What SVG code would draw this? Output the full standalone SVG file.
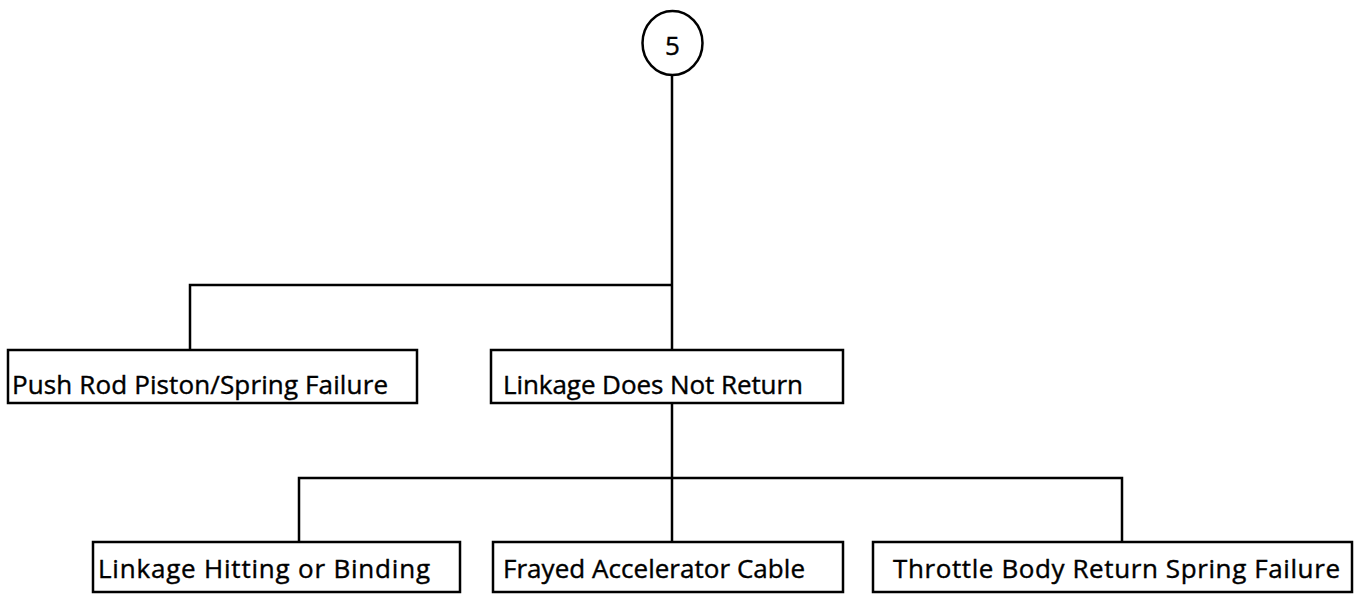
<svg xmlns="http://www.w3.org/2000/svg" width="1355" height="595" viewBox="0 0 1355 595">
<style>
.box{fill:#fff;stroke:#000;stroke-width:2.5}
.ln{fill:none;stroke:#000;stroke-width:2.5}
.t{font-family:"Open Sans","Liberation Sans",Arial,sans-serif;font-size:26px;fill:#000;stroke:#000;stroke-width:0.4}
.c{font-family:"Open Sans","Liberation Sans",Arial,sans-serif;font-size:26px;fill:#000;stroke:#000;stroke-width:0.4;text-anchor:middle}
</style>
<rect width="1355" height="595" fill="#fff"/>
<g id="connectors">
<path class="ln" d="M672 75 V350"/>
<path class="ln" d="M190 350 V285 H672"/>
<path class="ln" d="M672 403 V542"/>
<path class="ln" d="M299 542 V478 H1122 V542"/>
</g>
<g id="n5">
<ellipse class="box" cx="672.5" cy="43" rx="30" ry="32"/>
<text class="c" x="672.5" y="55">5</text>
</g>
<g id="n-pushrod">
<rect class="box" x="8" y="350" width="409" height="53"/>
<text class="t" x="12" y="394" textLength="376">Push Rod Piston/Spring Failure</text>
</g>
<g id="n-linkage">
<rect class="box" x="491" y="350" width="352" height="53"/>
<text class="t" x="503" y="394" textLength="300">Linkage Does Not Return</text>
</g>
<g id="n-hitting">
<rect class="box" x="93" y="542" width="367" height="50"/>
<text class="t" x="98" y="578" textLength="332">Linkage Hitting or Binding</text>
</g>
<g id="n-frayed">
<rect class="box" x="493" y="542" width="350" height="50"/>
<text class="t" x="503" y="578" textLength="302">Frayed Accelerator Cable</text>
</g>
<g id="n-throttle">
<rect class="box" x="873" y="542" width="479" height="50"/>
<text class="t" x="893" y="578" textLength="447">Throttle Body Return Spring Failure</text>
</g>
</svg>
